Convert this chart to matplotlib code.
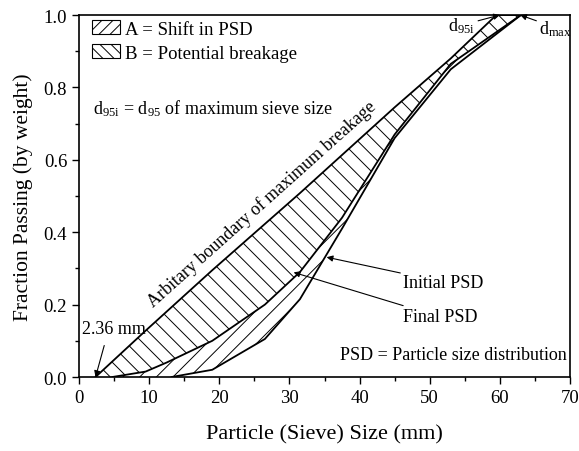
import matplotlib
matplotlib.use('Agg')
import matplotlib.pyplot as plt
import matplotlib.patches as mpatches
import numpy as np

plt.rcParams['font.family'] = ['Liberation Serif', 'DejaVu Serif']
plt.rcParams['mathtext.fontset'] = 'custom'
plt.rcParams['mathtext.rm'] = 'Liberation Serif'
plt.rcParams['mathtext.it'] = 'Liberation Serif'
plt.rcParams['hatch.linewidth'] = 0.7

# sieve sizes (mm) and fraction passing
boundary_x = [2.36, 9.5, 19, 31.5, 45, 53, 59.5, 63]
boundary_y = [0.0, 0.128, 0.295, 0.508, 0.745, 0.88, 1.0, 1.0]

final_x = [4.75, 9.5, 12.5, 19, 26.5, 31.5, 37.5, 45, 53, 63]
final_y = [0.0, 0.015, 0.04, 0.10, 0.20, 0.29, 0.44, 0.67, 0.865, 1.0]

initial_x = [13.2, 19, 26.5, 31.5, 37.5, 45, 53, 63]
initial_y = [0.0, 0.02, 0.105, 0.215, 0.41, 0.66, 0.85, 1.0]

fig = plt.figure(figsize=(5.79, 4.52), dpi=100)
ax = fig.add_axes([0.1364, 0.1637, 0.8481, 0.8009])

# Region B: between boundary and final PSD
bx = np.concatenate([boundary_x, final_x[::-1]])
by = np.concatenate([boundary_y, final_y[::-1]])
ax.fill(bx, by, facecolor='none', edgecolor='black', lw=0, hatch='\\\\')

# Region A: between final and initial PSD
axx = np.concatenate([final_x, initial_x[::-1]])
ayy = np.concatenate([final_y, initial_y[::-1]])
ax.fill(axx, ayy, facecolor='none', edgecolor='black', lw=0, hatch='//')

ax.plot(boundary_x, boundary_y, color='black', lw=1.3)
ax.plot(final_x, final_y, color='black', lw=1.3)
ax.plot(initial_x, initial_y, color='black', lw=1.3)

ax.set_xlim(0, 70)
ax.set_ylim(0, 1.0)
ax.set_xticks(np.arange(0, 71, 10))
ax.set_xticks(np.arange(0, 71, 5), minor=True)
ax.set_yticks(np.arange(0, 1.01, 0.2))
ax.set_yticks(np.arange(0, 1.01, 0.1), minor=True)
ax.set_yticklabels(['0.0', '0.2', '0.4', '0.6', '0.8', '1.0'])
ax.tick_params(which='both', direction='out', labelsize=13.5, width=1)
ax.tick_params(which='major', length=5)
ax.tick_params(which='minor', length=3)
for s in ax.spines.values():
    s.set_linewidth(1.2)

ax.set_xlabel('Particle (Sieve) Size (mm)', fontsize=16, labelpad=13)
ax.set_ylabel('Fraction Passing (by weight)', fontsize=15.5, labelpad=8)

arrow = dict(arrowstyle='-|>', color='black', lw=0.8, mutation_scale=9,
             shrinkA=0, shrinkB=0)

ax.annotate('Initial PSD', xy=(35.3, 0.331), xytext=(46.2, 0.262),
            fontsize=13, ha='left', va='center', arrowprops=arrow)
ax.annotate('Final PSD', xy=(30.6, 0.289), xytext=(46.2, 0.166),
            fontsize=13, ha='left', va='center', arrowprops=arrow)
ax.annotate('2.36 mm', xy=(2.36, 0.0), xytext=(0.4, 0.135),
            fontsize=13, ha='left', va='center')
ax.annotate('', xy=(2.36, 0.0), xytext=(3.6, 0.087), arrowprops=arrow)
ax.annotate(r'd$_{\mathrm{95i}}$', xy=(60.0, 1.0), xytext=(56.5, 0.972),
            fontsize=13, ha='right', va='center', arrowprops=arrow,
            annotation_clip=False)
ax.annotate(r'd$_{\mathrm{max}}$', xy=(62.9, 1.0), xytext=(65.6, 0.965),
            fontsize=13, ha='left', va='center', arrowprops=arrow,
            annotation_clip=False)

ax.text(2.0, 0.745, r'd$_{\mathrm{95i}}$ = d$_{\mathrm{95}}$ of maximum sieve size',
        fontsize=13, ha='left', va='center')
ax.text(69.6, 0.063, 'PSD = Particle size distribution',
        fontsize=13, ha='right', va='center')
ax.text(26.6, 0.47, 'Arbitary boundary of maximum breakage', fontsize=13,
        rotation=41.8, rotation_mode='anchor', ha='center', va='baseline')

hA = mpatches.Patch(facecolor='white', edgecolor='black', hatch='///', lw=0.8)
hB = mpatches.Patch(facecolor='white', edgecolor='black', hatch='\\\\\\', lw=0.8)
ax.legend([hA, hB], ['A = Shift in PSD', 'B = Potential breakage'],
          loc='upper left', bbox_to_anchor=(0.022, 0.99), frameon=False,
          fontsize=13.5, handlelength=1.5, handleheight=0.75,
          handletextpad=0.3, labelspacing=0.35, borderaxespad=0.0,
          borderpad=0.1)

fig.savefig('out.png', dpi=100)
